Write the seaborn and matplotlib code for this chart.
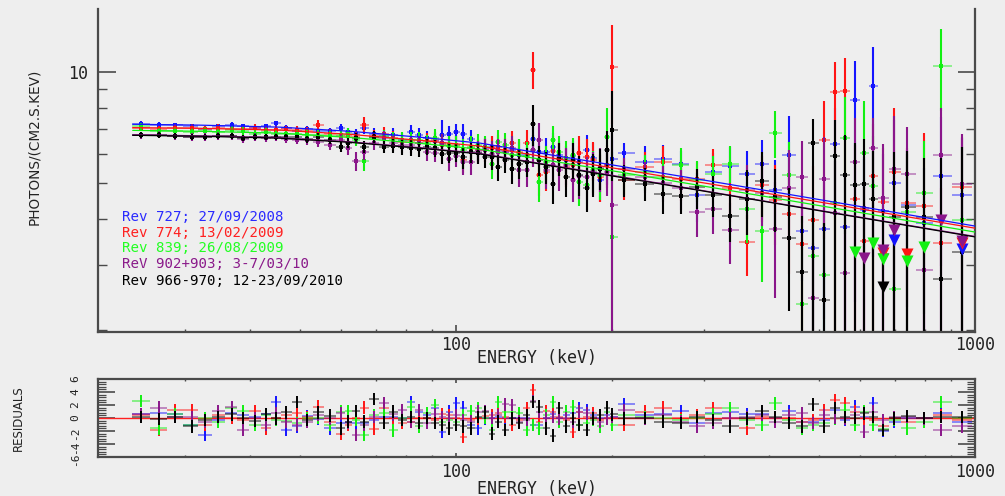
import numpy as np
import pandas as pd
import matplotlib
matplotlib.use("Agg")
import matplotlib.pyplot as plt
import seaborn as sns
from matplotlib import font_manager as fm
from matplotlib.ticker import NullFormatter

nan = np.nan

# ---------------- data ----------------
energy = [24.7, 26.8, 28.7, 30.9, 32.8, 34.8, 36.9, 38.9, 41.0, 43.0,
          45.0, 47.0, 49.4, 51.6, 54.2, 57.2, 60.0, 61.9, 64.2, 66.5,
          69.5, 72.6, 75.6, 78.7, 81.9, 84.9, 87.9, 91.1, 94.0, 96.9,
          100.0, 103.2, 106.9, 110.2, 113.7, 117.3, 120.5, 124.3, 128.2, 132.3,
          137.0, 140.7, 144.5, 149.1, 153.8, 157.9, 162.9, 168.1, 172.6, 178.8,
          183.6, 189.4, 195.4, 199.8, 210.8, 231.3, 250.5, 271.4, 291.3, 312.7,
          337.3, 363.8, 388.7, 411.8, 438.1, 464.2, 487.5, 511.9, 537.5, 561.8,
          587.3, 611.1, 636.1, 664.9, 698.2, 739.6, 797.6, 860.4, 944.1]

blue_flux = [7.24, 7.20, 7.18, 7.13, 7.03, 7.13, 7.20, 7.13, 7.04, 7.13,
             7.27, 7.04, 6.91, 7.00, 6.91, 6.91, 7.07, 6.87, 6.79, 7.06,
             6.81, 6.70, 6.77, 6.56, 6.89, 6.77, 6.64, 6.50, 6.77, 6.81,
             6.89, 6.81, 6.58, 6.14, 6.22, 6.27, 6.14, 6.07, 6.14, 5.96,
             5.96, 6.58, 6.07, 6.08, 6.27, 5.96, 5.77, 5.92, 5.70, 6.14,
             5.84, 5.10, 5.59, 5.83, 6.04, 5.70, 5.80, 5.63, 4.64, 5.35,
             5.57, 5.31, 5.65, 4.79, 5.98, 3.72, 3.35, 3.75, 6.38, 3.81,
             8.38, 4.23, 9.15, 4.21, 5.02, 4.36, 3.91, 5.24, 4.64]
red_flux = [7.06, 7.00, 7.07, 7.07, 7.00, 7.06, 7.00, 7.00, 7.06, 6.96,
            6.97, 7.00, 6.96, 6.91, 7.18, 6.79, 6.70, 6.70, 6.67, 7.20,
            6.70, 6.81, 6.63, 6.47, 6.50, 6.43, 6.51, 6.54, 6.34, 6.34,
            6.34, 5.77, 6.22, 6.14, 6.14, 6.22, 6.27, 6.14, 6.43, 6.07,
            6.43, 10.15, 5.28, 5.37, 6.11, 5.84, 5.53, 5.59, 6.02, 5.89,
            5.77, 5.20, 5.59, 10.31, 5.10, 5.53, 5.71, 5.14, 5.12, 5.59,
            4.84, 3.46, 4.94, 4.50, 4.14, 3.42, 3.97, 6.54, 8.83, 8.89,
            4.53, 3.48, 5.22, 4.44, 5.37, 4.41, 4.34, 3.45, 4.87]
green_flux = [7.13, 6.91, 6.93, 6.89, 6.93, 6.89, 6.96, 6.93, 6.81, 6.89,
              6.81, 6.79, 6.79, 6.77, 6.77, 6.71, 6.74, 6.81, 6.56, 5.74,
              6.62, 6.70, 6.58, 6.56, 6.56, 6.54, 6.42, 6.64, 6.38, 6.30,
              6.30, 6.14, 6.27, 6.34, 6.27, 5.65, 6.47, 6.34, 5.96, 6.02,
              5.92, 6.14, 5.04, 5.70, 6.54, 6.08, 5.84, 5.96, 5.04, 4.94,
              5.42, 5.26, 6.67, 3.57, 5.26, 5.36, 5.20, 5.59, 5.10, 5.29,
              5.65, 4.25, 3.71, 6.85, 5.28, 2.36, 3.17, 2.82, 4.42, 6.64,
              nan, 6.04, 4.91, nan, 2.58, 4.19, 4.72, 10.36, 3.97]
purple_flux = [6.74, 6.77, 6.70, 6.67, 6.67, 6.71, 6.72, 6.59, 6.66, 6.63,
               6.68, 6.58, 6.56, 6.54, 6.47, 6.34, 6.56, 6.21, 5.74, 6.08,
               6.43, 6.62, 6.41, 6.34, 6.34, 6.41, 6.08, 6.04, 6.41, 5.80,
               5.92, 5.71, 5.71, 6.07, 6.14, 5.99, 6.08, 6.08, 6.21, 5.42,
               5.42, 6.14, 6.56, 5.42, 5.59, 5.42, 5.59, 5.10, 5.22, 5.20,
               5.36, 5.49, 5.36, 4.36, 5.45, 5.20, 5.01, 4.84, 4.17, 4.25,
               3.73, 4.79, 4.72, 3.75, 4.84, 5.20, 2.44, 5.15, 4.16, 2.86,
               5.69, 4.28, 6.21, 4.57, 5.48, 5.31, 2.92, 5.98, 4.99]
black_flux = [6.74, 6.74, 6.70, 6.66, 6.67, 6.70, 6.70, 6.64, 6.66, 6.67,
              6.67, 6.66, 6.67, 6.58, 6.67, 6.54, 6.27, 6.41, 6.63, 6.27,
              6.67, 6.27, 6.31, 6.25, 6.23, 6.17, 6.27, 6.21, 5.99, 6.02,
              6.04, 5.88, 6.08, 6.02, 5.89, 5.89, 5.53, 5.77, 5.48, 5.65,
              5.71, 7.22, 5.77, 5.53, 4.99, 5.83, 5.20, 5.77, 5.26, 4.84,
              5.29, 5.48, 6.14, 6.96, 5.10, 4.99, 4.68, 4.62, 4.87, 4.64,
              4.07, 4.52, 5.06, 4.58, 3.56, 2.87, 6.43, 2.41, 5.92, 5.26,
              4.94, 4.97, 4.53, 3.21, 4.06, 4.32, 4.04, 2.76, 3.26]

# upper error half-lengths (first 65 bins symmetric)
blue_err = [0.12, 0.12, 0.10, 0.12, 0.12, 0.12, 0.12, 0.12, 0.12, 0.12,
            0.12, 0.14, 0.14, 0.14, 0.15, 0.16, 0.16, 0.20, 0.22, 0.25,
            0.25, 0.25, 0.28, 0.28, 0.30, 0.30, 0.30, 0.32, 0.65, 0.35,
            0.35, 0.40, 0.40, 0.40, 0.40, 0.45, 0.45, 0.45, 0.45, 0.50,
            0.50, 0.50, 0.50, 0.55, 0.55, 0.55, 0.55, 0.60, 0.60, 0.60,
            0.60, 0.65, 0.65, 0.70, 0.40, 0.60, 0.55, 0.50, 0.70, 0.70,
            0.70, 0.80, 0.90, 1.00, 1.60, 1.00, 1.20, 1.30, 1.60, 1.50,
            2.30, 1.60, 2.50, 1.80, 2.40, 1.80, 1.60, 2.30, 2.00]
red_err = [0.15, 0.15, 0.15, 0.15, 0.15, 0.15, 0.15, 0.15, 0.15, 0.16,
           0.16, 0.16, 0.18, 0.18, 0.25, 0.20, 0.22, 0.24, 0.25, 0.35,
           0.28, 0.28, 0.30, 0.30, 0.30, 0.32, 0.32, 0.35, 0.35, 0.38,
           0.38, 0.45, 0.42, 0.45, 0.45, 0.48, 0.48, 0.50, 0.50, 0.52,
           0.55, 1.15, 0.65, 0.60, 0.60, 0.60, 0.65, 0.65, 0.70, 0.70,
           0.70, 0.75, 0.75, 3.10, 0.60, 0.55, 0.60, 0.65, 0.60, 0.60,
           0.90, 0.65, 1.00, 1.10, 1.30, 1.30, 1.60, 1.80, 1.80, 2.00,
           1.80, 1.40, 2.00, 1.80, 2.60, 1.80, 2.50, 1.40, 1.80]
green_err = [0.15, 0.15, 0.15, 0.15, 0.15, 0.16, 0.16, 0.16, 0.16, 0.16,
             0.17, 0.17, 0.18, 0.18, 0.18, 0.20, 0.22, 0.24, 0.25, 0.35,
             0.28, 0.28, 0.30, 0.30, 0.30, 0.32, 0.35, 0.35, 0.38, 0.40,
             0.40, 0.45, 0.45, 0.45, 0.45, 0.50, 0.50, 0.50, 0.50, 0.55,
             0.55, 0.60, 0.60, 0.60, 0.60, 0.65, 0.65, 0.65, 0.70, 0.70,
             0.70, 0.75, 1.30, 2.50, 0.60, 0.60, 0.60, 0.65, 0.65, 0.65,
             0.65, 0.80, 1.00, 1.00, 1.20, 1.00, 1.20, 1.30, 1.60, 1.90,
             nan, 2.30, 1.80, nan, 1.50, 1.80, 1.80, 2.70, 2.30]
purple_err = [0.15, 0.15, 0.15, 0.15, 0.15, 0.15, 0.16, 0.16, 0.16, 0.16,
              0.17, 0.17, 0.18, 0.18, 0.20, 0.20, 0.22, 0.25, 0.35, 0.30,
              0.28, 0.30, 0.30, 0.30, 0.32, 0.32, 0.35, 0.35, 0.38, 0.40,
              0.40, 0.45, 0.45, 0.45, 0.45, 0.50, 0.50, 0.50, 0.50, 0.55,
              0.55, 0.60, 0.70, 0.60, 0.60, 0.65, 0.65, 0.65, 0.70, 0.70,
              0.70, 0.75, 0.75, 2.50, 0.40, 0.50, 0.55, 0.60, 0.60, 0.60,
              0.70, 0.80, 0.90, 1.30, 1.30, 1.30, 1.00, 1.50, 1.60, 1.00,
              1.80, 1.60, 1.30, 1.80, 2.10, 1.80, 1.20, 2.00, 1.80]
black_err = [0.12, 0.12, 0.12, 0.12, 0.12, 0.12, 0.12, 0.12, 0.12, 0.13,
             0.13, 0.13, 0.14, 0.14, 0.15, 0.16, 0.18, 0.20, 0.22, 0.25,
             0.25, 0.25, 0.28, 0.28, 0.30, 0.30, 0.30, 0.32, 0.35, 0.35,
             0.35, 0.40, 0.40, 0.40, 0.40, 0.45, 0.45, 0.45, 0.50, 0.50,
             0.50, 0.90, 0.55, 0.55, 0.60, 0.60, 0.60, 0.65, 0.65, 0.65,
             0.70, 0.70, 0.80, 1.90, 0.50, 0.50, 0.55, 0.50, 0.60, 0.60,
             0.60, 0.90, 1.00, 0.90, 1.30, 1.20, 1.05, 1.50, 1.50, 1.50,
             1.50, 1.60, 1.60, 1.00, 2.00, 1.80, 1.80, 3.10, 3.00]
# lower error half-lengths of the last 14 bins (longer, many reach the floor)
blue_err_lo_tail = [1.0, 3.0, 3.0, 2.0, 3.0, 6.0, 3.0, 6.0, 3.0, 4.0, 3.0, 3.0, 4.0, 3.0]
red_err_lo_tail = [1.6, 2.0, 3.0, 7.0, 7.0, 3.0, 1.6, 3.5, 3.0, 4.0, 3.0, 3.0, 1.6, 3.0]
green_err_lo_tail = [1.0, 2.0, 2.0, 2.5, 3.0, nan, 3.0, 3.0, nan, 1.5, 3.0, 2.5, 2.5, 3.0]
purple_err_lo_tail = [1.3, 1.5, 3.0, 2.5, 1.5, 4.0, 3.0, 4.5, 3.0, 4.0, 3.0, 1.5, 3.0, 3.0]
black_err_lo_tail = [1.5, 5.0, 1.5, 4.0, 4.0, 3.5, 3.5, 3.0, 1.5, 3.0, 3.0, 3.0, 1.5, 2.0]

# upper limits (energy, flux)
blue_ul_e = [698.2, 944.1]
blue_ul_f = [3.52, 3.32]
red_ul_e = [664.9, 739.6, 944.1]
red_ul_f = [3.23, 3.21, 3.44]
green_ul_e = [587.3, 636.1, 664.9, 739.6, 797.6]
green_ul_f = [3.26, 3.45, 3.11, 3.08, 3.37]
purple_ul_e = [611.1, 664.9, 698.2, 860.4, 944.1]
purple_ul_f = [3.13, 3.30, 3.73, 3.97, 3.49]
black_ul_e = [664.9]
black_ul_f = [2.62]

# model curves
model_energy = [23.8, 32.1, 45.8, 62.5, 85.2, 111.2, 151.7, 207.0, 295.2, 460.0, 1000.0]
model_blue = [7.22, 7.18, 7.09, 6.91, 6.66, 6.42, 5.97, 5.56, 5.12, 4.61, 3.83]
model_red = [7.07, 7.04, 6.96, 6.78, 6.53, 6.30, 5.86, 5.46, 5.03, 4.54, 3.78]
model_green = [6.95, 6.91, 6.83, 6.65, 6.41, 6.18, 5.75, 5.36, 4.93, 4.44, 3.69]
model_purple = [6.76, 6.72, 6.64, 6.47, 6.24, 6.02, 5.60, 5.21, 4.79, 4.31, 3.59]
model_black = [6.74, 6.70, 6.62, 6.45, 6.22, 6.00, 5.58, 5.19, 4.78, 4.30, 3.58]

# residuals (sigma)
res_blue = [0.56, 0.7, 0.56, -1.1, -2.6, -0.3, 0.7, 0.46, 0.2, 0.56,
            2.5, -1.85, -1.3, 0.3, -0.15, -1.6, -0.8, -0.56, -0.8, -0.8,
            -0.3, 0.2, 0.2, -0.05, 2.5, 1.0, 0.46, 1.5, -2.1, 1.0,
            2.25, 1.6, -1.1, -1.6, -0.05, -0.05, 0.2, -0.05, -0.05, -0.05,
            -0.05, -1.1, -1.0, -0.05, 0.56, -0.05, 0.46, 0.7, 1.5, 1.2,
            0.46, -0.05, 0.46, 0.2, 2.1, 0.46, 0.56, 1.1, -0.8, 0.7,
            1.0, 0.56, 0.56, -0.05, 1.1, -0.56, -0.56, -0.3, 1.2, -0.3,
            1.75, 0.2, 2.25, -2.0, -0.56, -0.05, -0.05, 0.7, -0.56]
res_red = [0.5, -1.85, 1.2, 1.2, -1.1, 0.46, 0.05, -0.3, 1.1, -1.6,
           0.05, 0.46, 0.7, 0.2, 1.75, -0.56, -2.4, -1.1, 0.05, 1.6,
           -1.7, 1.5, -0.05, -0.8, -0.56, 0.05, -0.05, -0.3, 0.56, 0.46,
           -0.05, -2.9, -0.3, -0.05, 0.36, 0.46, 0.7, 0.2, -1.1, -0.3,
           1.5, 4.3, -0.56, 1.1, 1.0, 0.2, -0.3, -2.1, 1.0, 0.2,
           0.7, -0.3, 0.05, 0.05, -1.1, 1.0, 1.6, 0.05, 0.46, 1.5,
           0.05, -1.6, 0.2, -0.05, -0.05, -0.56, -0.3, 1.2, 2.8, 2.25,
           1.0, -0.05, -0.3, -1.3, 0.05, -0.56, 0.05, 0.46, -0.3]
res_green = [2.6, -1.6, 0.56, -1.0, -0.05, -0.56, 1.5, 1.1, -1.1, 0.46,
             -0.3, -0.46, -0.8, 0.05, 0.05, -1.1, 1.0, 1.1, -0.3, -2.6,
             0.46, 0.7, -1.9, 0.05, 1.75, -1.3, 0.7, 2.0, -0.56, -0.3,
             -0.56, 0.46, 1.1, 1.5, 0.05, -1.85, 2.5, 1.0, 1.0, 0.7,
             -1.85, -1.1, -1.6, 0.46, 2.5, -0.56, 1.0, 1.75, -1.1, -0.8,
             -0.3, -1.3, 1.0, -1.1, 0.46, 0.2, -0.05, -0.3, 0.05, 0.56,
             1.5, -0.3, -1.1, 2.25, -0.3, -1.6, -1.1, -0.8, -0.05, 1.2,
             -1.1, 1.0, -1.0, -1.75, -0.3, -1.6, -0.56, 2.5, -0.05]
res_purple = [0.56, 1.6, 0.2, 0.2, -0.56, 1.1, 1.7, -1.85, 0.05, -1.1,
              0.7, -0.56, -1.0, -0.56, 0.46, -0.05, 0.7, -0.8, -2.6, -1.1,
              0.2, 2.3, 0.56, 1.2, -0.56, 1.2, -0.8, 0.56, 0.2, -0.05,
              0.46, -0.3, -0.56, 1.0, 1.1, 0.05, 0.46, 2.1, 2.0, -0.56,
              -0.3, 2.6, 1.0, -0.05, 0.2, -0.05, -0.05, -0.56, 1.0, 0.7,
              0.2, -0.56, -0.05, 0.2, 1.2, -0.05, 0.46, -0.56, -1.3, -0.8,
              -0.05, 0.2, 0.46, -0.56, 0.46, 0.7, -0.8, 0.46, 0.05, -0.05,
              0.46, -2.1, 1.0, -0.3, 0.2, 0.2, -0.05, -1.85, -1.3]
res_black = [0.2, -0.15, 0.2, -1.3, -0.3, 0.2, 0.56, 0.05, -0.46, 0.56,
             -0.05, 0.87, 2.5, -0.3, 0.87, 0.36, -1.6, -0.56, 1.1, -0.56,
             2.9, -0.7, 1.0, -0.3, 0.2, -0.8, 0.05, -0.8, -1.1, -1.6,
             -1.1, -1.3, -1.6, 0.2, 0.87, -2.4, -0.56, -1.85, -0.05, -0.8,
             0.46, 2.5, 1.75, -1.6, -2.7, 1.5, -1.3, -0.05, -1.1, -1.85,
             -0.05, 0.46, 1.6, 0.56, -0.05, 0.05, -0.56, -0.8, 0.2, -0.3,
             -1.3, -0.05, 1.1, 0.2, -0.8, -1.3, 2.1, -1.3, 1.5, 0.2,
             0.05, 0.7, 0.2, -1.85, -0.05, 0.3, 0.05, 0.2, 0.2]
res_err = 0.95

labels = ["Rev 727; 27/09/2008", "Rev 774; 13/02/2009", "Rev 839; 26/08/2009",
          "ReV 902+903; 3-7/03/10", "Rev 966-970; 12-23/09/2010"]

# ---------------- style ----------------
BG = "#eeeeee"
AX = "#4a4a4a"
TXT = "#222222"
colors = ["#1414ff", "#ff1414", "#12f012", "#8a168a", "#000000"]
label_colors = ["#2a2aff", "#ff2020", "#22ff22", "#8a1a8a", "#000000"]

sns.set_theme(style="ticks")
avail = {f.name for f in fm.fontManager.ttflist}
NARROW = "Liberation Sans Narrow" if "Liberation Sans Narrow" in avail else "DejaVu Sans"
MONO = "DejaVu Sans Mono"
plt.rcParams["font.family"] = [MONO, "DejaVu Sans"]
plt.rcParams["axes.facecolor"] = BG
plt.rcParams["figure.facecolor"] = BG

fig = plt.figure(figsize=(10.05, 4.96), dpi=100)
ax = fig.add_axes([98 / 1005, 164 / 496, 877 / 1005, 323 / 496])
axr = fig.add_axes([98 / 1005, 39 / 496, 877 / 1005, 78 / 496])
for a in (ax, axr):
    a.set_facecolor(BG)

E = np.array(energy)
mid = np.sqrt(E[1:] * E[:-1])
lo_edge = np.concatenate([[E[0] ** 2 / mid[0]], mid])
hi_edge = np.concatenate([mid, [E[-1] ** 2 / mid[-1]]])
xerr = np.vstack([E - lo_edge, hi_edge - E])

fluxes = [blue_flux, red_flux, green_flux, purple_flux, black_flux]
errs = [blue_err, red_err, green_err, purple_err, black_err]
lo_tails = [blue_err_lo_tail, red_err_lo_tail, green_err_lo_tail,
            purple_err_lo_tail, black_err_lo_tail]
uls = [(blue_ul_e, blue_ul_f), (red_ul_e, red_ul_f), (green_ul_e, green_ul_f),
       (purple_ul_e, purple_ul_f), (black_ul_e, black_ul_f)]
models = [model_blue, model_red, model_green, model_purple, model_black]
resids = [res_blue, res_red, res_green, res_purple, res_black]

ax.set_xscale("log")
ax.set_yscale("log")
axr.set_xscale("log")

for i in range(5):
    c = colors[i]
    n_tail = len(lo_tails[i])
    err_lo = list(errs[i][:len(energy) - n_tail]) + list(lo_tails[i])
    df = pd.DataFrame({"energy": E, "flux": fluxes[i], "err_hi": errs[i], "err_lo": err_lo})
    f = df["flux"].to_numpy()
    lower = np.minimum(df["err_lo"].to_numpy(), f - 0.5)
    ax.errorbar(df["energy"], df["flux"], xerr=xerr, fmt="none", ecolor=c,
                elinewidth=1.1, alpha=0.55, capsize=0, zorder=2 + i * 0.1)
    ax.errorbar(df["energy"], df["flux"], yerr=[lower, df["err_hi"].to_numpy()], fmt="none",
                ecolor=c, elinewidth=1.5, capsize=0, zorder=2.05 + i * 0.1)
    sns.scatterplot(data=df, x="energy", y="flux", ax=ax, color=c, marker="s",
                    s=7, linewidth=0, legend=False, zorder=2.08 + i * 0.1)
    ule, ulf = uls[i]
    dul = pd.DataFrame({"energy": ule, "flux": ulf})
    sns.scatterplot(data=dul, x="energy", y="flux", ax=ax, color=c, marker="v",
                    s=75, linewidth=0, legend=False, zorder=3 + i * 0.1)
    dm = pd.DataFrame({"energy": model_energy, "flux": models[i]})
    sns.lineplot(data=dm, x="energy", y="flux", ax=ax, color=c, linewidth=0.9,
                 estimator=None, sort=False, legend=False, zorder=4)

    dr = pd.DataFrame({"energy": E, "res": resids[i]})
    axr.errorbar(dr["energy"], dr["res"], xerr=xerr, fmt="none", ecolor=c,
                 elinewidth=1.1, alpha=0.6, capsize=0, zorder=2 + i * 0.1)
    axr.errorbar(dr["energy"], dr["res"], yerr=res_err, fmt="none", ecolor=c,
                 elinewidth=1.4, capsize=0, zorder=2.05 + i * 0.1)

axr.axhline(0, color="#ff2020", lw=1.0, zorder=1.5)

# ---------------- axes ----------------
for a in (ax, axr):
    a.set_xlim(20.4, 1000)
    a.set_xticks([100, 1000], ["100", "1000"])
    a.set_xticks([30, 40, 50, 60, 70, 80, 90, 200, 300, 400, 500, 600, 700, 800, 900], minor=True)
    a.xaxis.set_minor_formatter(NullFormatter())
    a.set_xlabel("ENERGY (keV)", fontsize=12, color=TXT, family=MONO)
    for s in a.spines.values():
        s.set_color(AX)
        s.set_linewidth(1.6)

ax.xaxis.set_label_coords(0.5, -0.052)
axr.xaxis.set_label_coords(0.5, -0.29)

ax.set_ylim(1.98, 14.8)
ax.set_yticks([10], ["10"])
ax.set_yticks([2, 3, 4, 5, 6, 7, 8, 9], minor=True)
ax.yaxis.set_minor_formatter(NullFormatter())
ax.spines["top"].set_visible(False)
ax.tick_params(axis="x", which="major", direction="in", length=4.7, width=1.2, colors=AX,
               labelcolor=TXT, labelsize=12, pad=3, bottom=True, top=False)
ax.tick_params(axis="x", which="minor", direction="in", length=2.4, width=1.0, colors=AX,
               bottom=True, top=False)
ax.tick_params(axis="y", which="major", direction="in", length=12.6, width=1.2, colors=AX,
               labelcolor=TXT, labelsize=12, pad=7, left=True, right=True)
ax.tick_params(axis="y", which="minor", direction="in", length=6.5, width=1.0, colors=AX,
               left=True, right=True)
ax.set_ylabel("PHOTONS/(CM2.S.KEV)", family=NARROW, fontsize=9.8, color=TXT)
ax.yaxis.set_label_coords(-0.065, 0.573)

axr.set_ylim(-6, 6)
axr.set_yticks([-6, -4, -2, 0, 2, 4, 6], ["-6", "-4", "-2", "0", "2", "4", "6"])
axr.set_yticks(np.arange(-6, 6.01, 0.4), minor=True)
axr.tick_params(axis="x", which="major", direction="in", length=3.0, width=1.2, colors=AX,
                labelcolor=TXT, labelsize=12, pad=4, bottom=True, top=True)
axr.tick_params(axis="x", which="minor", direction="in", length=1.6, width=1.0, colors=AX,
                bottom=True, top=True)
axr.tick_params(axis="y", which="major", direction="in", length=12.2, width=1.2, colors=AX,
                labelcolor=TXT, labelsize=8, pad=13, left=True, right=True, labelrotation=90)
axr.tick_params(axis="y", which="minor", direction="in", length=5.8, width=0.9, colors=AX,
                left=True, right=True)
axr.set_ylabel("RESIDUALS", family=NARROW, fontsize=8.5, color=TXT)
axr.yaxis.set_label_coords(-0.083, 0.5)

# labels of the observations
ys = [0.356, 0.3065, 0.260, 0.2105, 0.158]
for lab, col, yy in zip(labels, label_colors, ys):
    ax.text(0.0274, yy, lab, transform=ax.transAxes, color=col, fontsize=10.2,
            family=MONO, va="center", ha="left")

fig.savefig("out.png", dpi=100, facecolor=BG)
